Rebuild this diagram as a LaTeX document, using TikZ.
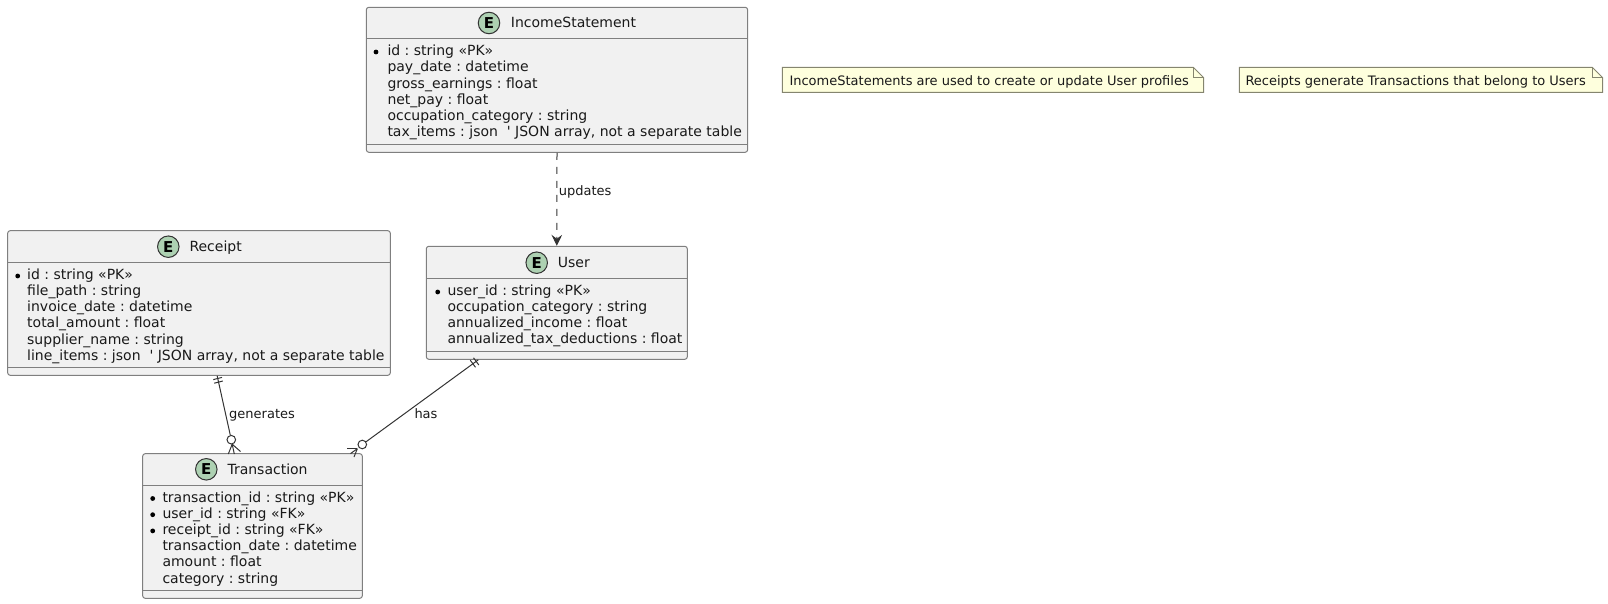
\documentclass[tikz,border=0pt]{standalone}
\usepackage{fontspec}
\setmainfont{DejaVu Sans}
\usepackage{tikz}
\usetikzlibrary{arrows.meta}

\frenchspacing

\definecolor{boxfill}{HTML}{F1F1F1}
\definecolor{boxline}{HTML}{7F7F7F}
\definecolor{iconfill}{HTML}{ADD1B2}
\definecolor{notefill}{HTML}{FEFFDD}
\definecolor{noteline}{HTML}{85856F}
\definecolor{edgeline}{HTML}{333333}

\tikzset{
  entitybox/.style={draw=boxline,fill=boxfill,line width=1pt,rounded corners=2.5pt,inner sep=0pt},
  rowline/.style={draw=boxline,line width=1pt},
  entityicon/.style={circle,draw=edgeline,fill=iconfill,line width=1pt,minimum size=21.5pt,inner sep=0pt,font=\fontsize{15}{16}\selectfont\bfseries},
  titletext/.style={anchor=base west,inner sep=0pt,text=black!90,font=\fontsize{14}{16}\selectfont},
  attrtext/.style={anchor=base west,inner sep=0pt,text=black!90,font=\fontsize{14}{16}\selectfont},
  keydot/.style={fill=black},
  notebox/.style={draw=noteline,fill=notefill,line width=1pt},
  notetext/.style={anchor=base west,inner sep=0pt,text=black!90,font=\fontsize{13}{15}\selectfont},
  edgetext/.style={anchor=base west,inner sep=0pt,text=black!90,font=\fontsize{13}{15}\selectfont},
  edge/.style={draw=edgeline,line width=1pt},
  zeroend/.style={circle,draw=edgeline,line width=1pt,minimum size=8.6pt,inner sep=0pt},
}

\begin{document}
\begin{tikzpicture}[x=1pt,y=-1pt]
\useasboundingbox (0,0) rectangle (1608,604);

% entities
\node[entitybox,minimum width=381.3pt,minimum height=145pt] (IncomeStatement) at (557,79.8) {};
\draw[rowline] (366.3,38.7) -- (747.6,38.7);
\draw[rowline] (366.3,144.3) -- (747.6,144.3);
\node[entityicon] (IncomeIcon) at (489,23) {E};
\node[titletext] (IncomeTitle) at (510.7,28) {IncomeStatement};
\fill[keydot] (376,52) circle (2.4);
\node[attrtext] (IncomeId) at (387.3,55.7) {id : string «PK»};
\node[attrtext] (IncomeDate) at (387.3,71.9) {pay\_date : datetime};
\node[attrtext] (IncomeGross) at (387.3,88.1) {gross\_earnings : float};
\node[attrtext] (IncomeNet) at (387.3,104.3) {net\_pay : float};
\node[attrtext] (IncomeJob) at (387.3,120.5) {occupation\_category : string};
\node[attrtext] (IncomeTax) at (387.3,136.7) {tax\_items : json~~\textquotesingle{} JSON array, not a separate table};

\node[entitybox,minimum width=382.6pt,minimum height=144.6pt] (Receipt) at (199,303) {};
\draw[rowline] (7.7,262.3) -- (390.3,262.3);
\draw[rowline] (7.7,367.3) -- (390.3,367.3);
\node[entityicon] (ReceiptIcon) at (168.3,246.7) {E};
\node[titletext] (ReceiptTitle) at (189.3,251.3) {Receipt};
\fill[keydot] (17.7,276) circle (2.4);
\node[attrtext] (ReceiptId) at (27,279.3) {id : string «PK»};
\node[attrtext] (ReceiptPath) at (27,295.5) {file\_path : string};
\node[attrtext] (ReceiptDate) at (27,311.7) {invoice\_date : datetime};
\node[attrtext] (ReceiptTotal) at (27,327.9) {total\_amount : float};
\node[attrtext] (ReceiptName) at (27,344.1) {supplier\_name : string};
\node[attrtext] (ReceiptItems) at (27,360.3) {line\_items : json~~\textquotesingle{} JSON array, not a separate table};

\node[entitybox,minimum width=261pt,minimum height=113pt] (User) at (556.8,302.8) {};
\draw[rowline] (426.3,278.3) -- (687.3,278.3);
\draw[rowline] (426.3,351.3) -- (687.3,351.3);
\node[entityicon] (UserIcon) at (536.7,262.7) {E};
\node[titletext] (UserTitle) at (557.7,267) {User};
\fill[keydot] (437.7,292) circle (2.4);
\node[attrtext] (UserId) at (447.3,295.3) {user\_id : string «PK»};
\node[attrtext] (UserJob) at (447.3,311.5) {occupation\_category : string};
\node[attrtext] (UserIncome) at (447.3,327.7) {annualized\_income : float};
\node[attrtext] (UserTax) at (447.3,343.9) {annualized\_tax\_deductions : float};

\node[entitybox,minimum width=219.6pt,minimum height=144.6pt] (Transaction) at (252.5,526) {};
\draw[rowline] (142.7,485) -- (362.3,485);
\draw[rowline] (142.7,590.3) -- (362.3,590.3);
\node[entityicon] (TransactionIcon) at (206.3,469.3) {E};
\node[titletext] (TransactionTitle) at (227.3,474) {Transaction};
\fill[keydot] (152.7,498.5) circle (2.4);
\fill[keydot] (152.7,514.7) circle (2.4);
\fill[keydot] (152.7,530.9) circle (2.4);
\node[attrtext] (TransactionId) at (162.3,502) {transaction\_id : string «PK»};
\node[attrtext] (TransactionUser) at (162.3,518.2) {user\_id : string «FK»};
\node[attrtext] (TransactionReceipt) at (162.3,534.4) {receipt\_id : string «FK»};
\node[attrtext] (TransactionDate) at (162.3,550.6) {transaction\_date : datetime};
\node[attrtext] (TransactionAmount) at (162.3,566.8) {amount : float};
\node[attrtext] (TransactionCat) at (162.3,583) {category : string};

% notes
\draw[notebox] (782.3,67.3) -- (1193.3,67.3) -- (1203.7,77.7) -- (1203.7,92.3) -- (782.3,92.3) -- cycle;
\draw[notebox,fill=none] (1193.3,67.3) -- (1193.3,77.7) -- (1203.7,77.7);
\node[notetext] (IncomeNote) at (789.3,85.3) {IncomeStatements are used to create or update User profiles};
\draw[notebox] (1239.3,67.3) -- (1592.3,67.3) -- (1602.7,77.7) -- (1602.7,92.3) -- (1239.3,92.3) -- cycle;
\draw[notebox,fill=none] (1592.3,67.3) -- (1592.3,77.7) -- (1602.7,77.7);
\node[notetext] (ReceiptNote) at (1245.3,85.3) {Receipts generate Transactions that belong to Users};

% relations
\draw[edge,dash pattern=on 7pt off 7pt,-{Stealth[length=11pt,width=10.7pt,inset=4pt]}] (IncomeStatement.south) -- (User.north);
\node[edgetext] (UpdatesLabel) at (558.7,195.7) {updates};

\node[zeroend] (GeneratesEnd) at (231.3,439.7) {};
\draw[edge] (Receipt.-76.8) -- (GeneratesEnd);
\draw[edge] (213.3,379.6) -- (222,377.4);
\draw[edge] (214.2,383.2) -- (222.9,381);
\draw[edge] (232.2,444.2) -- (228.3,454);
\draw[edge] (232.2,444.2) -- (234.3,454);
\draw[edge] (232.2,444.2) -- (240.5,451.5);
\node[edgetext] (GeneratesLabel) at (229,418.7) {generates};

\node[zeroend] (HasEnd) at (362.3,444.5) {};
\draw[edge] (User.216.1) -- (HasEnd);
\draw[edge] (473.5,357.8) -- (478.8,365);
\draw[edge] (470.2,360.1) -- (475.5,367.3);
\draw[edge] (357.3,448.7) -- (347.3,448.7);
\draw[edge] (357.3,448.7) -- (350.5,453.6);
\draw[edge] (357.3,448.7) -- (354,457);
\node[edgetext] (HasLabel) at (414.3,418.7) {has};

\end{tikzpicture}
\end{document}
